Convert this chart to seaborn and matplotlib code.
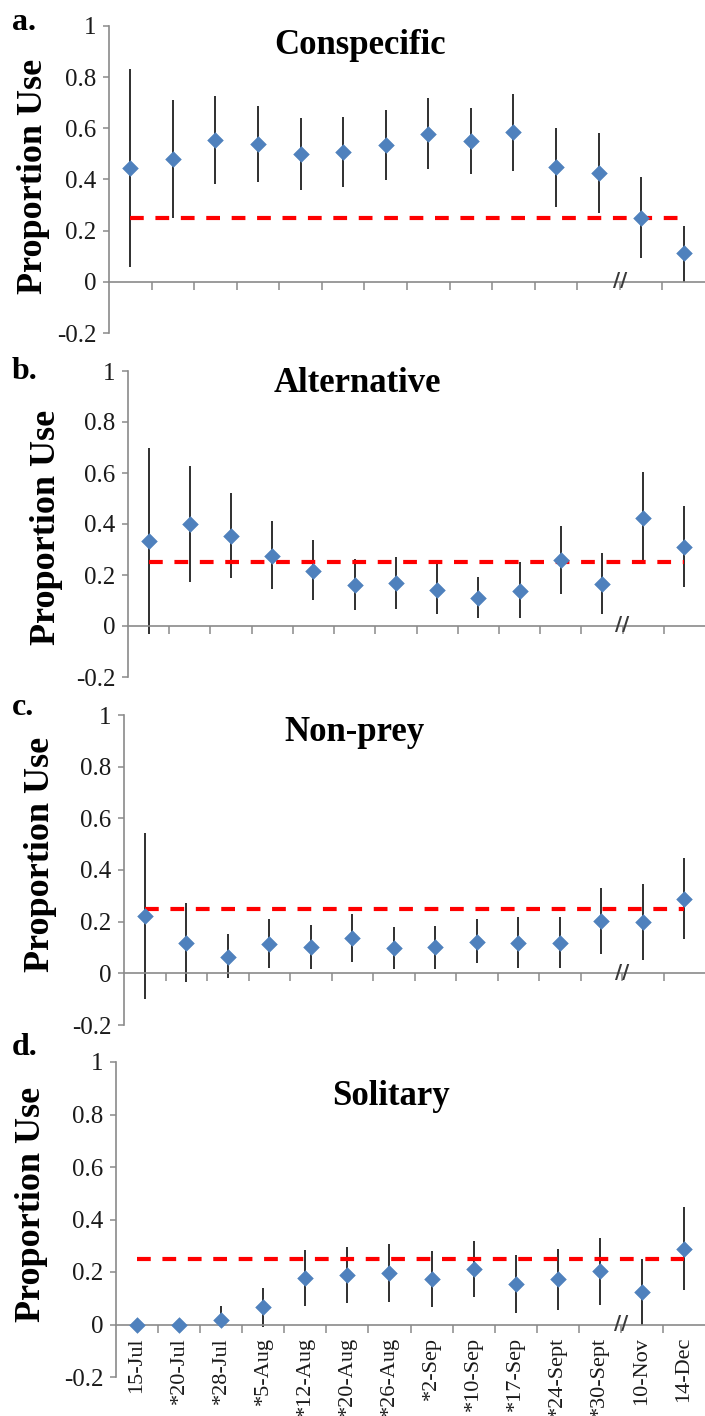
import numpy as np
import pandas as pd
import matplotlib
matplotlib.use("Agg")
import matplotlib.pyplot as plt
import seaborn as sns

# ---------------- data ----------------
categories = ["15-Jul", "*20-Jul", "*28-Jul", "*5-Aug", "*12-Aug", "*20-Aug", "*26-Aug",
              "*2-Sep", "*10-Sep", "*17-Sep", "*24-Sept", "*30-Sept", "10-Nov", "14-Dec"]
break_after = "*30-Sept"
expected = 0.25

panel_letters = ["a.", "b.", "c.", "d."]
panel_titles = ["Conspecific", "Alternative", "Non-prey", "Solitary"]
ylabel = "Proportion Use"
ytick_values = [-0.2, 0, 0.2, 0.4, 0.6, 0.8, 1]
ytick_labels = ["-0.2", "0", "0.2", "0.4", "0.6", "0.8", "1"]

conspecific_mean = [0.444, 0.480, 0.556, 0.540, 0.500, 0.506, 0.535, 0.579, 0.550, 0.587, 0.447, 0.426, 0.248, 0.111]
conspecific_low = [0.059, 0.248, 0.383, 0.392, 0.360, 0.370, 0.397, 0.440, 0.420, 0.435, 0.294, 0.270, 0.092, 0.000]
conspecific_high = [0.830, 0.712, 0.728, 0.689, 0.640, 0.643, 0.673, 0.718, 0.680, 0.736, 0.600, 0.582, 0.408, 0.218]

alternative_mean = [0.332, 0.399, 0.354, 0.276, 0.217, 0.162, 0.167, 0.143, 0.111, 0.136, 0.259, 0.164, 0.424, 0.310]
alternative_low = [-0.033, 0.174, 0.188, 0.145, 0.103, 0.062, 0.066, 0.046, 0.030, 0.033, 0.125, 0.049, 0.250, 0.151]
alternative_high = [0.697, 0.628, 0.522, 0.412, 0.338, 0.263, 0.272, 0.250, 0.193, 0.250, 0.393, 0.286, 0.605, 0.472]

nonprey_mean = [0.222, 0.119, 0.065, 0.114, 0.103, 0.135, 0.099, 0.101, 0.123, 0.119, 0.119, 0.203, 0.197, 0.288]
nonprey_low = [-0.099, -0.032, -0.019, 0.019, 0.017, 0.043, 0.017, 0.017, 0.039, 0.022, 0.022, 0.075, 0.052, 0.132]
nonprey_high = [0.545, 0.271, 0.152, 0.209, 0.187, 0.228, 0.178, 0.185, 0.210, 0.219, 0.219, 0.332, 0.346, 0.445]

solitary_mean = [0.000, 0.000, 0.019, 0.065, 0.176, 0.190, 0.195, 0.173, 0.213, 0.153, 0.172, 0.203, 0.124, 0.289]
solitary_low = [0.000, 0.000, 0.000, -0.010, 0.070, 0.082, 0.086, 0.067, 0.105, 0.043, 0.057, 0.076, 0.000, 0.130]
solitary_high = [0.000, 0.000, 0.072, 0.139, 0.285, 0.297, 0.308, 0.281, 0.319, 0.265, 0.289, 0.329, 0.249, 0.446]

series = [
    (conspecific_mean, conspecific_low, conspecific_high),
    (alternative_mean, alternative_low, alternative_high),
    (nonprey_mean, nonprey_low, nonprey_high),
    (solitary_mean, solitary_low, solitary_high),
]

# ---------------- style ----------------
sns.set_style("white")
plt.rcParams["font.family"] = ["Liberation Serif", "DejaVu Serif"]

W, H = 705, 1416
fig = plt.figure(figsize=(W / 100, H / 100), dpi=100)
fig.patch.set_facecolor("white")

GREY = "#8a8a8a"
BLUE = "#4F81BD"
RED = "#FF0000"
BAR = "#2f2f2f"
TXT = "#1a1a1a"

# pixel layout: left, top, bottom of each axes
layout = [(109, 26, 333), (128, 371, 677), (124, 715, 1025), (116, 1062, 1377)]
right = 705
letter_pos = [(12, 30), (12, 379), (12, 715), (12, 1055)]
title_pos = [(360, 54), (357, 392), (355, 741), (391, 1105)]
ylabel_pos = [(34, 176), (47, 527), (41, 854), (32, 1204)]

n = len(categories)
brk = categories.index(break_after) + 0.5

for i, (mean, low, high) in enumerate(series):
    l, t, b = layout[i]
    ax = fig.add_axes([l / W, 1 - b / H, (right - l) / W, (b - t) / H])
    ax.set_facecolor("white")
    df = pd.DataFrame({"date": categories, "mean": mean, "low": low, "high": high})

    sns.scatterplot(data=df, x="date", y="mean", marker="D", s=64, color=BLUE,
                    edgecolor=BLUE, linewidth=0.4, zorder=4, legend=False, ax=ax)
    ax.vlines(df["date"], df["low"], df["high"], colors=BAR, linewidth=1.4, zorder=2)
    ax.hlines(expected, categories[0], categories[-1], colors=RED, linewidth=3,
              linestyles=[(0, (3.3, 2.8))], zorder=3)

    ax.set_xlim(-0.5, n - 0.5)
    ax.set_ylim(-0.2, 1.0)
    ax.set_xlabel("")
    ax.set_ylabel("")

    for s in ["top", "right"]:
        ax.spines[s].set_visible(False)
    ax.spines["left"].set_color(GREY)
    ax.spines["left"].set_linewidth(1.2)
    ax.spines["bottom"].set_color(GREY)
    ax.spines["bottom"].set_linewidth(1.2)
    ax.spines["bottom"].set_position(("data", 0))

    ax.set_yticks(ytick_values)
    ax.set_yticklabels(ytick_labels)
    ax.tick_params(axis="y", which="major", left=True, direction="out", length=4,
                   width=1.1, color=GREY, pad=5, labelsize=18, labelcolor=TXT)

    ax.set_xticks(np.arange(n))
    if i == 3:
        ax.set_xticklabels(categories)
    else:
        ax.set_xticklabels([""] * n)
    ax.set_xticks(np.arange(0.5, n - 1, 1.0), minor=True)
    ax.tick_params(axis="x", which="major", bottom=True, length=0, pad=9,
                   labelsize=16, labelcolor=TXT, rotation=90)
    ax.tick_params(axis="x", which="minor", bottom=True, direction="out", length=6,
                   width=1.1, color=GREY)
    for lab in ax.get_xticklabels():
        lab.set_va("top")
        lab.set_ha("center")

    ax.text(brk, 0.004, "//", ha="center", va="center", fontsize=14,
            fontweight="bold", color="#3a3a3a", family="DejaVu Sans", zorder=5)

    lx, ly = letter_pos[i]
    fig.text(lx / W, 1 - ly / H, panel_letters[i], fontsize=23, fontweight="bold",
             ha="left", va="baseline", color="black")
    tx, ty = title_pos[i]
    fig.text(tx / W, 1 - ty / H, panel_titles[i], fontsize=25, fontweight="bold",
             ha="center", va="baseline", color="black")
    yx, yy = ylabel_pos[i]
    fig.text(yx / W, 1 - yy / H, ylabel, fontsize=26, fontweight="bold",
             rotation=90, ha="center", va="center", color="black")

fig.savefig("out.png", dpi=100, facecolor="white")
